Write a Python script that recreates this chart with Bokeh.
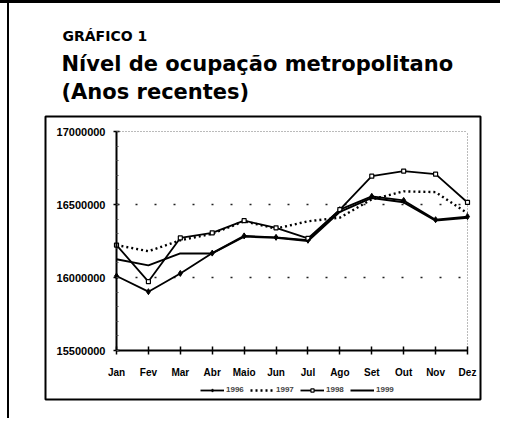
from bokeh.plotting import figure
from bokeh.models import (Range1d, FixedTicker, Legend, LegendItem, Title)
from bokeh.embed import file_html
from bokeh.resources import INLINE

months = ["Jan", "Fev", "Mar", "Abr", "Maio", "Jun", "Jul", "Ago", "Set", "Out", "Nov", "Dez"]
s1996 = [16010000, 15903000, 16028000, 16167000, 16285000, 16275000, 16255000, 16465000, 16556000, 16528000, 16396000, 16417000]
s1997 = [16222000, 16180000, 16255000, 16300000, 16385000, 16335000, 16385000, 16410000, 16535000, 16590000, 16585000, 16440000]
s1998 = [16222000, 15972000, 16271000, 16306000, 16389000, 16340000, 16268000, 16465000, 16694000, 16729000, 16708000, 16514000]
s1999 = [16125000, 16083000, 16165000, 16165000, 16280000, 16272000, 16250000, 16450000, 16545000, 16515000, 16390000, 16410000]
years = ["1996", "1997", "1998", "1999"]
ytick_vals = [15500000, 16000000, 16500000, 17000000]
ytick_labels = ["15500000", "16000000", "16500000", "17000000"]
title_top = "GRÁFICO 1"
title_main = "Nível de ocupação metropolitano\n(Anos recentes)"

# ---- geometry (pixels) ----
W, H = 500, 418
BL, BR, BT, BB = 45, 20, 113, 22          # borders around the frame (= chart box)
FW, FH = W - BL - BR, H - BT - BB          # frame size
PL, PR = 71, 13                            # plot area inset from frame left / right
PT, PB = 15, 49                            # plot area inset from frame top / bottom

n = len(months)
ux = (FW - PL - PR) / (n - 1)
x_start = 0 - PL / ux
x_end = (n - 1) + PR / ux
uy = (FH - PT - PB) / (ytick_vals[-1] - ytick_vals[0])
y_start = ytick_vals[0] - PB / uy
y_end = ytick_vals[-1] + PT / uy

x = list(range(n))
p = figure(width=W, height=H, x_range=Range1d(x_start, x_end), y_range=Range1d(y_start, y_end),
           output_backend="svg", toolbar_location=None,
           min_border_left=BL, min_border_right=BR, min_border_top=BT, min_border_bottom=BB)
p.background_fill_color = "white"
p.border_fill_alpha = 0
p.outline_line_color = "black"
p.outline_line_width = 2
p.styles = {"border-top": "3px solid black",
            "background": "linear-gradient(#000,#000) 7px 0 / 2px 100% no-repeat"}

# titles (p.title is outermost, later "above" items sit closer to the frame)
p.title = Title(text=title_top, align="left", offset=17, standoff=-13,
                text_font="DejaVu Sans", text_font_style="bold", text_font_size="14px",
                text_color="black")
p.add_layout(Title(text=title_main, align="left", offset=16, standoff=24,
                   text_font="DejaVu Sans", text_font_style="bold", text_font_size="21px",
                   text_color="black", text_line_height=1.2), "above")

# axes at fixed positions inside the box
xax, yax = p.xaxis[0], p.yaxis[0]
xax.fixed_location = ytick_vals[0]
yax.fixed_location = 0
xax.bounds = (0, n - 1)
yax.bounds = (ytick_vals[0], ytick_vals[-1])
xax.ticker = FixedTicker(ticks=x)
xax.major_label_overrides = {i: m for i, m in enumerate(months)}
yax.ticker = FixedTicker(ticks=ytick_vals,
                         minor_ticks=list(range(ytick_vals[0], ytick_vals[-1] + 1, 100000)))
yax.major_label_overrides = {v: l for v, l in zip(ytick_vals, ytick_labels)}
for ax in (xax, yax):
    ax.axis_line_color = "black"
    ax.axis_line_width = 2
    ax.major_tick_line_color = "black"
    ax.major_tick_line_width = 1.5
    ax.major_label_text_font = "Liberation Sans"
    ax.major_label_text_font_style = "bold"
    ax.major_label_text_color = "black"
xax.major_tick_in = 4
xax.major_tick_out = 4
xax.minor_tick_line_color = None
xax.major_label_text_font_size = "10px"
xax.major_label_standoff = 12
yax.major_tick_in = 3
yax.major_tick_out = 3
yax.minor_tick_in = 2
yax.minor_tick_out = 0
yax.minor_tick_line_color = "#555555"
yax.major_label_text_font_size = "11px"
yax.major_label_standoff = 8

p.xgrid.grid_line_color = None
p.ygrid.grid_line_color = None

# plot-area dotted lines (grid at inner ticks, fine dots on top and right edge)
inner = ytick_vals[1:-1]
p.segment(x0=[0] * len(inner), x1=[n - 1] * len(inner), y0=inner, y1=inner,
          line_color="#222222", line_width=1.5, line_dash="2 17")
p.segment(x0=[0, n - 1], x1=[n - 1, n - 1], y0=[ytick_vals[-1], ytick_vals[0]],
          y1=[ytick_vals[-1], ytick_vals[-1]],
          line_color="#777777", line_width=1, line_dash="1 2")

# series
r96 = p.line(x, s1996, line_color="black", line_width=1.8)
m96 = p.scatter(x, s1996, marker="diamond", size=6, color="black")
r97 = p.line(x, s1997, line_color="black", line_width=2.4, line_dash="2 3")
r98 = p.line(x, s1998, line_color="black", line_width=1.8)
m98 = p.scatter(x, s1998, marker="square", size=4, fill_color="white", line_color="black", line_width=1.2)
r99 = p.line(x, s1999, line_color="black", line_width=2)

legend = Legend(items=[LegendItem(label=years[0], renderers=[r96, m96]),
                       LegendItem(label=years[1], renderers=[r97]),
                       LegendItem(label=years[2], renderers=[r98, m98]),
                       LegendItem(label=years[3], renderers=[r99])],
                orientation="horizontal", location=(155, 5),
                label_text_font="Liberation Sans", label_text_font_style="bold",
                label_text_font_size="8px", label_standoff=2,
                glyph_width=24, glyph_height=8, spacing=4, padding=0, margin=0,
                border_line_color=None, background_fill_alpha=0)
p.add_layout(legend)

open("out.html", "w").write(file_html(p, INLINE))
